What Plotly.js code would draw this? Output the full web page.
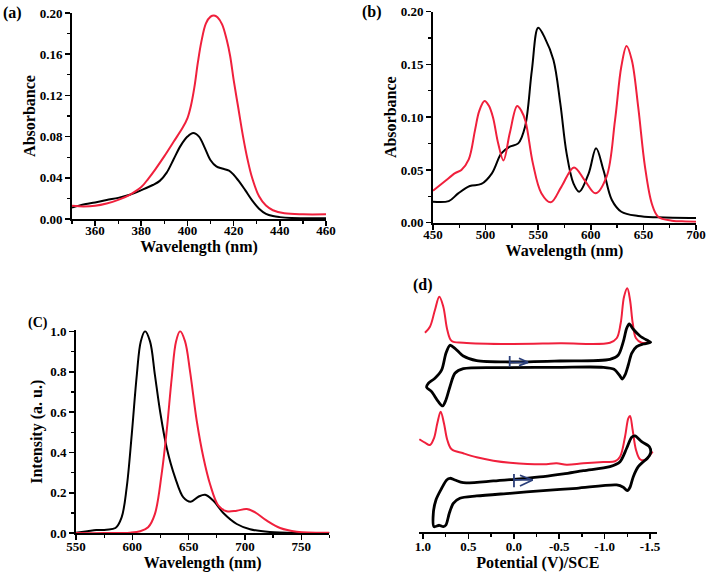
<!DOCTYPE html>
<html>
<head>
<meta charset="utf-8">
<script src="https://cdn.plot.ly/plotly-3.0.1.min.js"></script>
<style>html,body{margin:0;padding:0;background:#fff}#chart{width:709px;height:581px}</style>
</head>
<body>
<div id="chart"></div>
<script>
// ---------- Panel (a): absorbance, Soret region ----------
const aRedWave = [350,355,360,365,370,375,380,383,386,390,394,398,400,401.5,403,404.5,406,408,410,411.5,413,415,417,418.5,420,422,424,426,428,431,434,437,442,450,460];
const aRedAbs  = [0.0128,0.0122,0.0128,0.015,0.0185,0.0235,0.031,0.039,0.048,0.061,0.075,0.089,0.098,0.11,0.128,0.152,0.172,0.19,0.1965,0.1977,0.196,0.189,0.174,0.158,0.135,0.108,0.081,0.058,0.040,0.022,0.013,0.0085,0.0055,0.0045,0.0045];
const aBlkWave = [350,353,356,360,365,370,375,380,385,388,391,394,397,400,402.5,405,407.5,410,412.5,415,418,420,422.5,425,428,431,434,437,440,445,450,460];
const aBlkAbs  = [0.011,0.013,0.0145,0.016,0.0185,0.0205,0.0235,0.028,0.033,0.037,0.045,0.058,0.071,0.080,0.0835,0.080,0.069,0.057,0.051,0.049,0.047,0.043,0.036,0.028,0.018,0.010,0.005,0.0028,0.0018,0.001,0.0008,0.0007];

// ---------- Panel (b): absorbance, Q-band region ----------
const bRedWave = [450,461,471,477,484,490,494,499,503,507,512,517,523,530,534,538,545,553,562,572,584,594,604.5,615,623,629,634,639,645,651.5,658,664,677,690,700];
const bRedAbs  = [0.0303,0.039,0.047,0.050,0.060,0.088,0.106,0.1153,0.111,0.100,0.075,0.059,0.085,0.1106,0.106,0.096,0.056,0.028,0.0193,0.034,0.0524,0.0404,0.0278,0.0436,0.097,0.148,0.1675,0.154,0.110,0.053,0.018,0.0057,0.0019,0.0012,0.001];
const bBlkWave = [450,465,474,485,496,506,515,523,531,537.5,544,550,556.5,564.5,571,577,583.5,589,598,605,612,620,629,645,664,700];
const bBlkAbs  = [0.0199,0.0205,0.0278,0.0348,0.0367,0.0468,0.0657,0.072,0.0752,0.091,0.1447,0.1848,0.1747,0.1542,0.1131,0.0657,0.0373,0.0294,0.0468,0.0705,0.0499,0.0215,0.0104,0.0063,0.0051,0.0044];

// ---------- Panel (C): emission ----------
const cBlkWave = [550,560,568,577,585,590.5,595,599.5,604,607.5,611.3,615.7,620,624.6,630.5,638,645.3,651.8,658.6,664.6,672,681,692.7,704.5,722,752,775];
const cBlkInt  = [0.003,0.01,0.016,0.018,0.026,0.079,0.227,0.49,0.786,0.95,1.0,0.95,0.786,0.605,0.424,0.276,0.178,0.156,0.181,0.191,0.161,0.099,0.046,0.02,0.0066,0.002,0.001];
const cRedWave = [550,575,598,607,614,620,626,630.5,635,638.8,642.4,646.8,651.2,657.2,663.1,669,676.4,683.8,692.7,701.6,709,719.4,731.2,746,775];
const cRedInt  = [0.001,0.001,0.003,0.01,0.03,0.095,0.293,0.507,0.77,0.95,1.0,0.95,0.803,0.556,0.375,0.243,0.137,0.109,0.112,0.12,0.104,0.0625,0.026,0.008,0.003];

// ---------- Panel (d): CV / DPV (current in arbitrary stacked units) ----------
const dRed1Pot = [0.978,0.923,0.868,0.82,0.776,0.732,0.684,0.556,0.042,-0.509,-1.059,-1.133,-1.177,-1.214,-1.25,-1.28,-1.31,-1.346,-1.408,-1.5];
const dRed1Cur = [199,205,221.7,235,225,201.7,190.7,189,187.7,188.4,189,193.4,208.4,235,243.4,231.7,208.4,193.4,189,189.4];
const dBlk1Pot = [0.042,-0.509,-1.059,-1.151,-1.206,-1.243,-1.272,-1.316,-1.39,-1.482,-1.507,-1.427,-1.353,-1.298,-1.261,-1.225,-1.195,-1.162,-1.104,-0.986,-0.509,0.042,0.556,0.648,0.703,0.747,0.783,0.831,0.905,0.96,0.941,0.868,0.794,0.747,0.703,0.648,0.556,0.409,0.042];
const dBlk1Cur = [169.7,170.7,172.4,176.7,190,203.4,207.7,202.4,195.7,190.7,189.4,187.7,185,178.4,166.7,156.7,152.7,156.7,162.4,164.4,164.4,164,163,158.4,145,131.7,125.7,130,140,144.4,148.4,153.4,161.7,178.4,186.4,183.4,175.7,171,169.7];
const dRed2Pot = [1.04,0.978,0.923,0.879,0.842,0.805,0.769,0.732,0.684,0.556,0.409,0.225,0.042,-0.325,-0.472,-0.582,-0.766,-0.986,-1.115,-1.17,-1.225,-1.261,-1.28,-1.309,-1.346,-1.39,-1.445,-1.5,-1.529];
const dRed2Cur = [92.4,89,86.7,93.4,108.4,120,108.4,91.7,82.4,78.4,74.4,71,69,67.4,68.4,67,68.4,69.7,70.4,75,95,113.4,115.7,101.7,81.7,72.4,71.7,76.7,80];
const dBlk2Pot = [0.703,0.648,0.556,0.225,-0.002,-0.325,-0.546,-0.766,-1.059,-1.17,-1.243,-1.298,-1.335,-1.408,-1.493,-1.507,-1.471,-1.427,-1.371,-1.316,-1.28,-1.25,-1.206,-1.133,-0.692,-0.325,0.042,0.409,0.593,0.666,0.71,0.747,0.776,0.82,0.879,0.886,0.857,0.794,0.739,0.703];
const dBlk2Cur = [53.4,51.7,49,50.7,52.4,55,57.7,61,65,70,83.4,94.4,95.7,90,85,79,73.4,70,65,55,44.4,41,44.4,46.7,43.4,41,38.4,35.7,33.4,28.4,18.4,6.7,5,6.4,5,18.4,31.7,43.4,51.7,53.4];
// scan-direction arrows
const dArrow1Pot = [0.045,0.045,null,0.045,-0.156,null,-0.057,-0.156,-0.057];
const dArrow1Cur = [175.7,165,null,169.4,169.4,null,173.4,169.4,166];
const dArrow2Pot = [-0.002,-0.002,null,-0.002,-0.208,null,-0.068,-0.208,-0.068];
const dArrow2Cur = [57.7,44.4,null,51.7,51.7,null,56.4,51.7,45.7];
const dTickVals = [1.0,0.5,0.0,-0.5,-1.0,-1.5];
const dTickText = ['1.0','0.5','0.0','-0.5','-1.0','-1.5'];

const RED = '#f0203c', BLK = '#000000', NAVY = '#2b3f7a';
const FONT = 'Liberation Serif, Times New Roman, serif';

function line(x, y, color, xa, ya, w, sm) {
  return {x: x, y: y, xaxis: xa, yaxis: ya, type: 'scatter', mode: 'lines',
          line: {color: color, width: w || 2, shape: 'spline', smoothing: sm || 1},
          hoverinfo: 'skip', showlegend: false};
}

const traces = [
  line(aBlkWave, aBlkAbs, BLK, 'x', 'y'),
  line(aRedWave, aRedAbs, RED, 'x', 'y'),
  line(bBlkWave, bBlkAbs, BLK, 'x2', 'y2'),
  line(bRedWave, bRedAbs, RED, 'x2', 'y2'),
  line(cBlkWave, cBlkInt, BLK, 'x3', 'y3'),
  line(cRedWave, cRedInt, RED, 'x3', 'y3'),
  line(dRed1Pot, dRed1Cur, RED, 'x4', 'y4', 2),
  line(dBlk1Pot, dBlk1Cur, BLK, 'x4', 'y4', 2.8, 0.8),
  line(dRed2Pot, dRed2Cur, RED, 'x4', 'y4', 2),
  line(dBlk2Pot, dBlk2Cur, BLK, 'x4', 'y4', 2.8, 0.8),
  {x: dArrow1Pot, y: dArrow1Cur, xaxis: 'x4', yaxis: 'y4', type: 'scatter', mode: 'lines',
   line: {color: NAVY, width: 1.8}, hoverinfo: 'skip', showlegend: false},
  {x: dArrow2Pot, y: dArrow2Cur, xaxis: 'x4', yaxis: 'y4', type: 'scatter', mode: 'lines',
   line: {color: NAVY, width: 1.8}, hoverinfo: 'skip', showlegend: false}
];

const tickFont = {family: FONT, size: 13, color: '#000', weight: 700};
const titleFont = {family: FONT, size: 16, color: '#000', weight: 700};

function ax(extra) {
  return Object.assign({
    showline: true, linecolor: '#000', linewidth: 2, showgrid: false, zeroline: false,
    ticks: 'outside', ticklen: 5, tickwidth: 1.6, tickcolor: '#000',
    tickfont: tickFont, fixedrange: true
  }, extra);
}
function minor(d) { return {dtick: d, ticks: 'outside', ticklen: 3, tickwidth: 1.3, tickcolor: '#000', showgrid: false}; }

const layout = {
  width: 709, height: 581,
  margin: {l: 0, r: 0, t: 0, b: 0},
  paper_bgcolor: '#fff', plot_bgcolor: '#fff',
  showlegend: false,
  xaxis: ax({domain: [0.1016, 0.4598], range: [350, 460], dtick: 20, tick0: 0, anchor: 'y', minor: minor(10),
     ticklabelstandoff: -7,
     title: {text: 'Wavelength (nm)', font: titleFont, standoff: 0}}),
  yaxis: ax({domain: [0.6231, 0.9776], range: [0, 0.2], dtick: 0.04, tickformat: '.2f', anchor: 'x', minor: minor(0.02),
     title: {text: 'Absorbance', font: titleFont, standoff: 0}}),
  xaxis2: ax({domain: [0.6107, 0.9817], range: [450, 700], dtick: 50, anchor: 'y2', minor: minor(25),
     ticklabelstandoff: -6,
     title: {text: 'Wavelength (nm)', font: titleFont, standoff: 0}}),
  yaxis2: ax({domain: [0.6167, 0.9799], range: [0, 0.2], dtick: 0.05, tickformat: '.2f', anchor: 'x2', minor: minor(0.025),
     title: {text: 'Absorbance', font: titleFont, standoff: 0}}),
  xaxis3: ax({domain: [0.1072, 0.4647], range: [550, 775], dtick: 50, anchor: 'y3', minor: minor(25),
     ticklabelstandoff: -5,
     title: {text: 'Wavelength (nm)', font: titleFont, standoff: 0}}),
  yaxis3: ax({domain: [0.0821, 0.4315], range: [0, 1.005], dtick: 0.2, tickformat: '.1f', anchor: 'x3', minor: minor(0.1),
     title: {text: 'Intensity (a. u.)', font: titleFont, standoff: 4}}),
  xaxis4: ax({domain: [0.5908, 0.9264], range: [1.045, -1.575], tickmode: 'array', tickvals: dTickVals, ticktext: dTickText,
     anchor: 'y4', minor: {tickmode: 'array', tickvals: [0.75,0.25,-0.25,-0.75,-1.25], ticks: 'outside', ticklen: 3, tickwidth: 1.3, tickcolor: '#000'},
     ticklabelstandoff: -3,
     title: {text: 'Potential (V)/SCE', font: titleFont, standoff: 0}}),
  yaxis4: {domain: [0.0849, 0.5181], range: [0, 251.7], visible: false, anchor: 'x4', fixedrange: true},
  annotations: [
    {text: '(a)', x: 0.0176, y: 0.9776, xref: 'paper', yref: 'paper', showarrow: false, font: titleFont, xanchor: 'center', yanchor: 'middle'},
    {text: '(b)', x: 0.5247, y: 0.9793, xref: 'paper', yref: 'paper', showarrow: false, font: titleFont, xanchor: 'center', yanchor: 'middle'},
    {text: '(C)', x: 0.0529, y: 0.444, xref: 'paper', yref: 'paper', showarrow: false, font: {family: FONT, size: 14, color: '#000', weight: 700}, xanchor: 'center', yanchor: 'middle'},
    {text: '(d)', x: 0.5973, y: 0.5095, xref: 'paper', yref: 'paper', showarrow: false, font: titleFont, xanchor: 'center', yanchor: 'middle'}
  ]
};

Plotly.newPlot('chart', traces, layout, {displayModeBar: false, staticPlot: true});
</script>
</body>
</html>
